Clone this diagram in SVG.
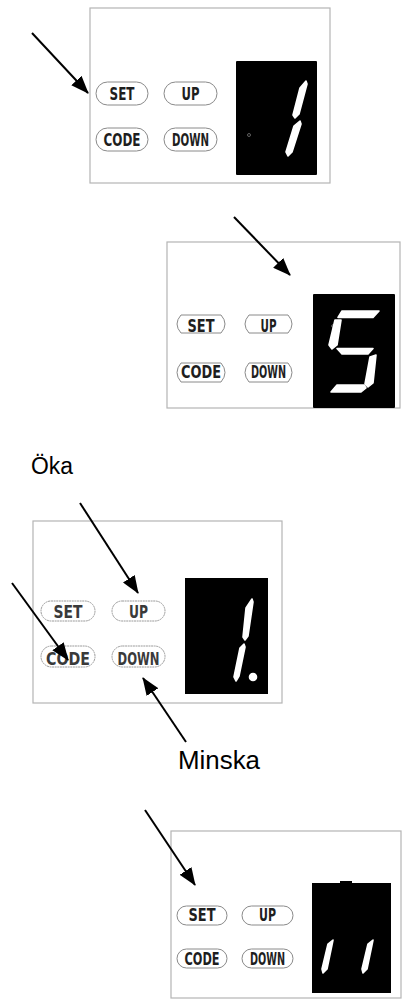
<svg xmlns="http://www.w3.org/2000/svg" width="402" height="999" viewBox="0 0 402 999">
<style>
.box{fill:#fff;stroke:#b4b4b4;stroke-width:1.2}
.pill{fill:#fff;stroke:#8a8a8a;stroke-width:1}
.pill3{fill:#fff;stroke:#9a9a9a;stroke-width:1;stroke-dasharray:2 0.6}
.bt{font-family:"DejaVu Sans Condensed","Liberation Sans Narrow","Liberation Sans",sans-serif;font-size:17px;font-weight:bold;fill:#1e1e1e;text-anchor:middle}
.bt3{fill:#3a3a3a;font-size:18px}
.disp{fill:#000}
.seg{fill:#fff;stroke:#fff;stroke-width:1.6;stroke-linejoin:round}
.lbl{font-family:"Liberation Sans","Carlito",Arial,sans-serif;fill:#000}
.arr{stroke:#000;stroke-width:2;fill:none;marker-end:url(#ah)}
</style>
<defs>
<marker id="ah" viewBox="0 0 18 14" refX="17" refY="7" markerWidth="18" markerHeight="14" markerUnits="userSpaceOnUse" orient="auto">
<path d="M0,0 L18,7 L0,14 Z" fill="#000"/>
</marker>
</defs>
<rect width="402" height="999" fill="#fff"/>

<g id="panel1">
<rect class="box" x="90" y="8" width="240" height="175"/>
<g id="p1-set"><rect class="pill" x="96" y="82" width="52" height="23" rx="11.5"/><text class="bt" x="122" y="100" textLength="25" lengthAdjust="spacingAndGlyphs">SET</text></g>
<g id="p1-up"><rect class="pill" x="164" y="82" width="53" height="23" rx="11.5"/><text class="bt" x="190.5" y="100" textLength="18" lengthAdjust="spacingAndGlyphs">UP</text></g>
<g id="p1-code"><rect class="pill" x="96" y="128" width="52" height="23" rx="11.5"/><text class="bt" x="122" y="146" textLength="37" lengthAdjust="spacingAndGlyphs">CODE</text></g>
<g id="p1-down"><rect class="pill" x="164" y="128" width="53" height="23" rx="11.5"/><text class="bt" x="190.5" y="146" textLength="37" lengthAdjust="spacingAndGlyphs">DOWN</text></g>
<g id="p1-display">
<rect class="disp" x="236" y="61" width="81" height="114" rx="1"/>
<circle cx="249" cy="135" r="1.5" fill="none" stroke="#777" stroke-width="0.8"/>
<polygon class="seg" points="300,88 306,81 307,84 299,114 295,118 293,115"/>
<polygon class="seg" points="294,126 300,121 301,124 292,152 288,156 286,152"/>
</g>
</g>

<g id="panel2">
<rect class="box" x="167" y="242" width="233" height="166"/>
<g id="p2-set"><path class="pill" d="M181,315 H221 Q229,324 221,333 H181 Q173,324 181,315 Z"/><text class="bt" x="201" y="332" textLength="27" lengthAdjust="spacingAndGlyphs">SET</text></g>
<g id="p2-up"><path class="pill" d="M249,315 H288 Q296,324 288,333 H249 Q241,324 249,315 Z"/><text class="bt" x="268.5" y="332" textLength="16" lengthAdjust="spacingAndGlyphs">UP</text></g>
<g id="p2-code"><path class="pill" d="M181,363 H221 Q229,372.5 221,382 H181 Q173,372.5 181,363 Z"/><text class="bt" x="201" y="378" textLength="40" lengthAdjust="spacingAndGlyphs">CODE</text></g>
<g id="p2-down"><path class="pill" d="M249,363 H288 Q296,372.5 288,382 H249 Q241,372.5 249,363 Z"/><text class="bt" x="268.5" y="378" textLength="35" lengthAdjust="spacingAndGlyphs">DOWN</text></g>
<g id="p2-display">
<rect class="disp" x="313" y="294" width="82" height="114" rx="1"/>
<circle cx="333" cy="326" r="1.3" fill="none" stroke="#888" stroke-width="0.8"/>
<polygon class="seg" points="342,311 379,311 373,317.5 338,317.5"/>
<polygon class="seg" points="335,320 341,320 337,345 332,349 329,345"/>
<polygon class="seg" points="337,348.5 373,348.5 368,354 342,354"/>
<polygon class="seg" points="370,357 376,355 373,383 368,387 365,384"/>
<polygon class="seg" points="337,385 364,385 366,388 361,392 331,392"/>
</g>
</g>

<g id="label-oka"><text class="lbl" x="31" y="474" font-size="23" textLength="42" lengthAdjust="spacingAndGlyphs">Öka</text></g>

<g id="panel3">
<rect class="box" x="33" y="521" width="249" height="182"/>
<g id="p3-set"><rect class="pill3" x="41" y="601" width="54" height="20" rx="10"/><text class="bt bt3" x="68" y="618" textLength="29" lengthAdjust="spacingAndGlyphs">SET</text></g>
<g id="p3-up"><rect class="pill3" x="112" y="601" width="53" height="20" rx="10"/><text class="bt bt3" x="138.5" y="618" textLength="19" lengthAdjust="spacingAndGlyphs">UP</text></g>
<g id="p3-code"><rect class="pill3" x="41" y="646" width="54" height="21" rx="10.5"/><text class="bt bt3" x="68" y="665" textLength="44" lengthAdjust="spacingAndGlyphs">CODE</text></g>
<g id="p3-down"><rect class="pill3" x="112" y="646" width="53" height="21" rx="10.5"/><text class="bt bt3" x="138.5" y="665" textLength="42" lengthAdjust="spacingAndGlyphs">DOWN</text></g>
<g id="p3-display">
<rect class="disp" x="185" y="578" width="83" height="116"/>
<polygon class="seg" points="246,608 252,599 253,602 248,636 245,640 243,637"/>
<polygon class="seg" points="240,648 244,644 245,647 239,676 236,681 234,677"/>
<circle class="seg" cx="253" cy="677" r="3.5"/>
</g>
</g>

<g id="label-minska"><text class="lbl" x="178" y="769" font-size="26" textLength="82" lengthAdjust="spacingAndGlyphs">Minska</text></g>

<g id="panel4">
<rect class="box" x="171" y="831" width="230" height="167"/>
<g id="p4-set"><rect class="pill" x="177" y="906" width="50" height="19" rx="9.5"/><text class="bt" x="202" y="921" textLength="27" lengthAdjust="spacingAndGlyphs">SET</text></g>
<g id="p4-up"><rect class="pill" x="242" y="906" width="51" height="19" rx="9.5"/><text class="bt" x="267.5" y="921" textLength="17" lengthAdjust="spacingAndGlyphs">UP</text></g>
<g id="p4-code"><rect class="pill" x="177" y="949" width="50" height="19" rx="9.5"/><text class="bt" x="202" y="965" textLength="35" lengthAdjust="spacingAndGlyphs">CODE</text></g>
<g id="p4-down"><rect class="pill" x="242" y="949" width="51" height="19" rx="9.5"/><text class="bt" x="267.5" y="965" textLength="35" lengthAdjust="spacingAndGlyphs">DOWN</text></g>
<g id="p4-display">
<rect class="disp" x="312" y="883" width="79" height="110"/>
<rect class="disp" x="340" y="881" width="12" height="3"/>
<polygon class="seg" points="328,944 333,940 332,945 327,969 323,973 322,969"/>
<polygon class="seg" points="368,944 373,940 372,945 367,969 363,973 362,969"/>
</g>
</g>

<g id="connectors">
<line class="arr" x1="32" y1="33" x2="88" y2="93"/>
<line class="arr" x1="234" y1="217" x2="290" y2="275"/>
<line class="arr" x1="80" y1="503" x2="138" y2="593"/>
<line class="arr" x1="12" y1="583" x2="68" y2="660"/>
<line class="arr" x1="186" y1="742" x2="143" y2="678"/>
<line class="arr" x1="145" y1="810" x2="195" y2="885"/>
</g>
</svg>
